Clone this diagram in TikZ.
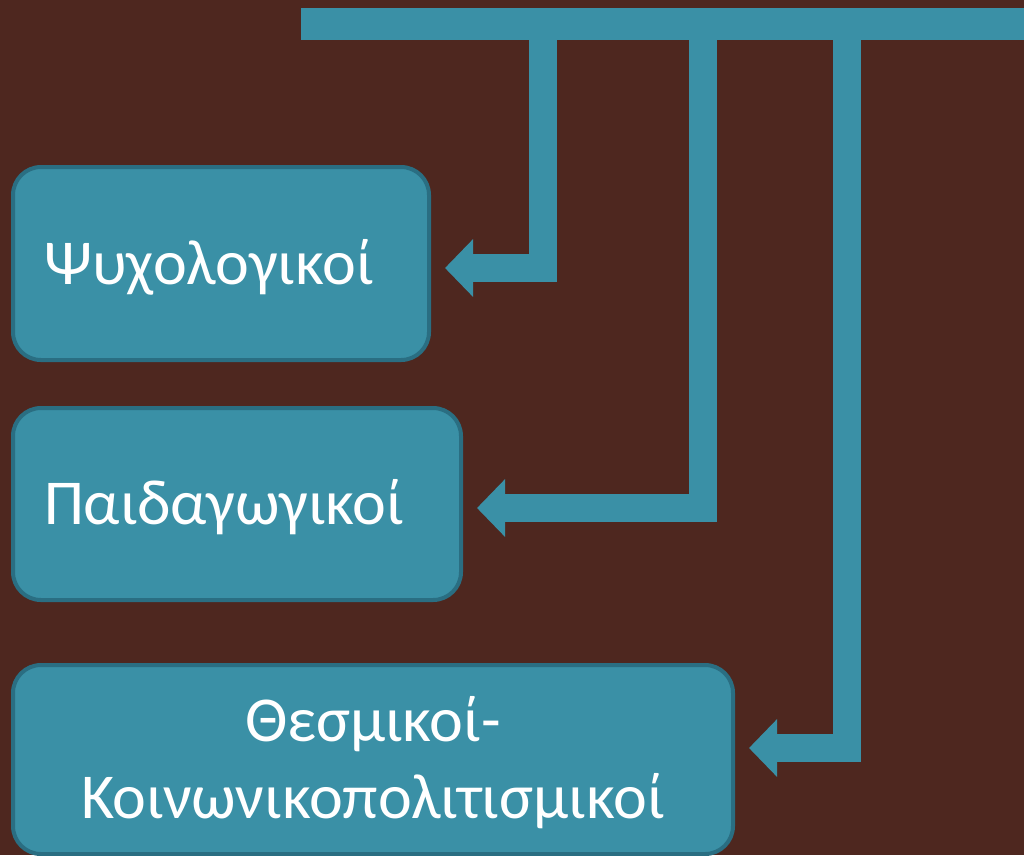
\documentclass[tikz,border=0pt]{standalone}
\usepackage{fontspec}
\setmainfont{Carlito}
\usetikzlibrary{arrows.meta,calc}
\definecolor{bgbrown}{HTML}{4E271F}
\definecolor{teal1}{HTML}{3A90A6}
\definecolor{tealdark}{HTML}{2A6E82}
\tikzset{
  box/.style={draw=tealdark, line width=4pt, fill=teal1, rounded corners=28pt,
    text=white, font=\fontsize{64}{77}\selectfont, inner xsep=31pt, inner ysep=0pt,
    text height=41pt, text depth=0pt},
  conn/.style={draw=teal1, line width=28pt, -{Triangle[length=28pt,width=56pt]}, shorten >=14pt},
  bar/.style={fill=teal1, inner sep=0pt, minimum height=32pt, minimum width=730pt, anchor=north west}
}
\begin{document}
\begin{tikzpicture}[x=1pt,y=1pt]
\fill[bgbrown] (0,0) rectangle (1024,-855);
\useasboundingbox (0,0) rectangle (1024,-855);
\node[box, minimum width=416pt, minimum height=193pt, text width=354pt, align=left] (b1) at (221,-263.5) {Ψυχολογικοί};
\node[box, minimum width=448pt, minimum height=192pt, text width=386pt, align=left] (b2) at (237,-504) {Παιδαγωγικοί};
\node[box, minimum width=720pt, minimum height=189pt, text width=658pt, align=center, text depth=77pt] (b3) at (373,-759.5) {Θεσμικοί-\\Κοινωνικοπολιτισμικοί};
\node[bar] (bar) at (301,-8) {};
\draw[conn] ($(bar.west)+(242,0)$) |- ([yshift=-4.5pt]b1.east);
\draw[conn] ($(bar.west)+(401.5,0)$) |- ([yshift=-4pt]b2.east);
\draw[conn] ($(bar.west)+(546,0)$) |- ([yshift=11.5pt]b3.east);
\end{tikzpicture}
\end{document}
